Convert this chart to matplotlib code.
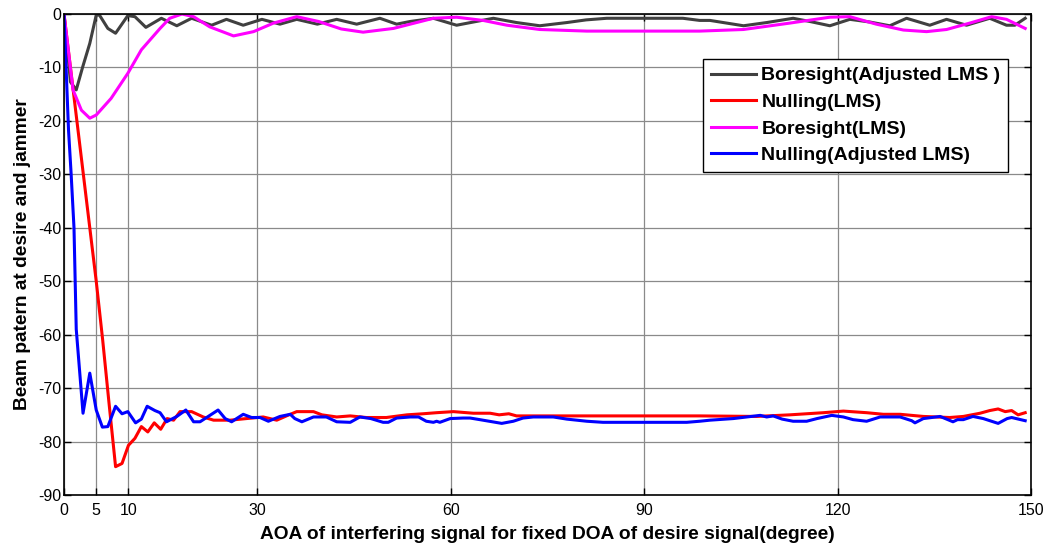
import matplotlib
matplotlib.use("Agg")
import matplotlib.pyplot as plt

plt.rcParams['font.family'] = ['Liberation Sans', 'DejaVu Sans']
plt.rcParams['axes.unicode_minus'] = False

# Boresight response, adjusted LMS (dB)
bore_adj_x = [0, 1, 1.9, 2.9, 4, 5, 5.5, 6.8, 8, 9.9, 11, 12.7, 15.1, 17.5, 19.8,
              22.9, 25.2, 27.8, 30.7, 33.5, 36.1, 39.3, 42.3, 45.4, 49, 51.6, 53.7,
              57.3, 60.9, 63.5, 66.6, 70.2, 73.8, 78, 81, 84.2, 96, 98.6, 100.2,
              105.4, 109, 113.1, 115.7, 118.8, 121.9, 125, 128.1, 130.7, 134.3,
              136.9, 140, 143.6, 146.2, 147.5, 149.1]
bore_adj_y = [0, -12.7, -14.2, -9.9, -5.5, -0.2, -0.2, -2.7, -3.6, -0.3, -0.5, -2.5,
              -0.8, -2.2, -0.8, -2.1, -1.0, -2.1, -1.0, -1.9, -1.0, -1.9, -1.0, -1.9,
              -0.8, -1.9, -1.4, -0.8, -2.1, -1.5, -0.8, -1.6, -2.2, -1.6, -1.1, -0.8,
              -0.8, -1.2, -1.2, -2.2, -1.6, -0.8, -1.4, -2.2, -1.0, -1.5, -2.2, -0.8,
              -2.1, -1.0, -2.1, -0.8, -2.1, -2.1, -0.8]

# Nulling response, LMS (dB)
null_lms_x = [0, 5, 6, 7, 8, 9, 10, 11, 12, 13, 14, 15, 16, 17, 18, 19.8, 21.6, 23.2,
              25.8, 28.3, 30.9, 33, 34.7, 36.1, 38.7, 40, 42.3, 44.4, 46.9, 50, 53.2,
              55.7, 57.8, 60.4, 63.5, 66.1, 67.5, 69, 70.2, 98.6, 107.4, 112.6, 117.8,
              120.9, 124.5, 127.1, 129.7, 133.3, 137.4, 139.5, 142.1, 143.6, 144.9,
              146, 147, 148, 149.1]
null_lms_y = [0, -50, -61, -73, -84.7, -84.1, -80.7, -79.4, -77.2, -78.2, -76.5, -77.7,
              -75.7, -76.0, -74.4, -74.4, -75.4, -76.0, -76.0, -75.7, -75.4, -76.0,
              -75.1, -74.4, -74.4, -75.0, -75.4, -75.2, -75.5, -75.5, -75.0, -74.8,
              -74.6, -74.4, -74.7, -74.7, -75.0, -74.8, -75.2, -75.2, -75.3, -75.0,
              -74.6, -74.3, -74.6, -74.9, -74.9, -75.3, -75.5, -75.3, -74.7, -74.2,
              -73.9, -74.4, -74.2, -75.0, -74.6]

# Boresight response, LMS (dB)
bore_lms_x = [0, 1.4, 2.7, 4.0, 5.0, 7.3, 9.9, 12.0, 14.9, 16.4, 18.3, 20.1, 22.6,
              26.3, 29.4, 32.5, 36.1, 39.5, 43, 46.4, 51.1, 57.3, 60.9, 65, 68.7,
              73.8, 81.1, 98.6, 105.4, 112.6, 118.8, 121.9, 126, 130.2, 133.8, 136.9,
              140.5, 143.9, 146.2, 149.1]
bore_lms_y = [0, -14.2, -18, -19.5, -18.9, -15.8, -11.1, -6.7, -2.7, -0.8, 0, -0.5,
              -2.4, -4.1, -3.3, -1.7, -0.5, -1.4, -2.8, -3.4, -2.7, -0.8, -0.6, -1.2,
              -2.1, -2.9, -3.2, -3.2, -2.9, -1.7, -0.6, -0.5, -1.9, -3.0, -3.3, -2.9,
              -1.7, -0.5, -1.0, -2.7]

# Nulling response, adjusted LMS (dB)
null_adj_x = [0, 0.7, 1.1, 1.55, 1.9, 2.95, 4, 5, 5.95, 6.8, 8, 9, 9.9, 11.1, 12, 12.9,
              14.1, 14.9, 15.9, 17.5, 18.9, 20.1, 21.1, 23.9, 25, 26, 27.8, 29.1, 30.4,
              31.7, 33.5, 35.1, 35.8, 36.9, 38.7, 40.7, 42.3, 44.4, 45.9, 47.6, 49.5,
              50.3, 51.6, 53.7, 55, 56.2, 57.3, 57.8, 58.3, 59.9, 61.9, 63, 64.5, 67.9,
              69.7, 71.2, 72.8, 75.9, 78, 81.1, 83.6, 96.6, 98.6, 100.2, 103.8, 108,
              109, 110, 111.4, 113.1, 115.2, 116.8, 119.1, 120.9, 122.4, 124.5, 126.6,
              129.7, 131.5, 132, 133.3, 135.9, 137.9, 138.6, 139.5, 141, 142.6, 144.9,
              146.3, 147, 149.1]
null_adj_y = [0, -21.7, -29.8, -40, -59, -74.7, -67.2, -74.1, -77.3, -77.2, -73.4,
              -74.8, -74.4, -76.5, -75.8, -73.4, -74.2, -74.6, -76.3, -75.3, -74.1,
              -76.3, -76.3, -74.1, -75.7, -76.3, -74.9, -75.5, -75.5, -76.2, -75.3,
              -74.9, -75.7, -76.3, -75.4, -75.4, -76.3, -76.4, -75.4, -75.7, -76.4,
              -76.4, -75.6, -75.4, -75.4, -76.2, -76.4, -76.2, -76.4, -75.7, -75.6,
              -75.6, -75.9, -76.6, -76.2, -75.6, -75.4, -75.4, -75.8, -76.2, -76.4,
              -76.4, -76.2, -76.0, -75.7, -75.1, -75.4, -75.2, -75.8, -76.2, -76.2,
              -75.7, -75.1, -75.4, -75.9, -76.2, -75.4, -75.4, -76.1, -76.5, -75.7,
              -75.3, -76.3, -75.9, -75.9, -75.3, -75.7, -76.6, -75.7, -75.5, -76.1]

x_ticks = [0, 5, 10, 30, 60, 90, 120, 150]
y_ticks = list(range(-90, 1, 10))
labels = ['Boresight(Adjusted LMS )', 'Nulling(LMS)', 'Boresight(LMS)',
          'Nulling(Adjusted LMS)']
colors = ['#404040', '#ff0000', '#ff00ff', '#0000ff']

fig = plt.figure(figsize=(10.47, 5.46), dpi=100)
ax = fig.add_axes([64 / 1047, 1 - 495 / 546, (1031 - 64) / 1047, (495 - 14) / 546])

series = [(bore_adj_x, bore_adj_y), (null_lms_x, null_lms_y),
          (bore_lms_x, bore_lms_y), (null_adj_x, null_adj_y)]
for (xs, ys), lab, c in zip(series, labels, colors):
    ax.plot(xs, ys, color=c, lw=2.2, label=lab)

ax.set_xlim(0, 150)
ax.set_ylim(-90, 0)
ax.set_xticks(x_ticks)
ax.set_yticks(y_ticks)
ax.grid(True, color='#8a8a8a', lw=0.9)
ax.set_axisbelow(True)
ax.tick_params(direction='in', length=5, width=1, top=True, right=True,
               labelsize=11.5, pad=2, colors='black')
ax.tick_params(axis='x', pad=5.5)
for s in ax.spines.values():
    s.set_linewidth(1.2)
    s.set_color('black')

ax.set_xlabel('AOA of interfering signal for fixed DOA of desire signal(degree)',
              fontsize=13.8, fontweight='bold', labelpad=6)
ax.set_ylabel('Beam patern at desire and jammer', fontsize=13.8,
              fontweight='bold', labelpad=5)

leg = ax.legend(loc='upper left', bbox_to_anchor=((703 - 64) / 967, 1 - (59 - 14) / 481),
                frameon=True, fancybox=False, shadow=False, framealpha=1,
                prop={'weight': 'bold', 'size': 14}, borderpad=0.4,
                handlelength=2.3, handletextpad=0.3, labelspacing=0.46,
                borderaxespad=0)
leg.get_frame().set_edgecolor('black')
leg.get_frame().set_linewidth(1.0)

fig.savefig('out.png', dpi=100)
